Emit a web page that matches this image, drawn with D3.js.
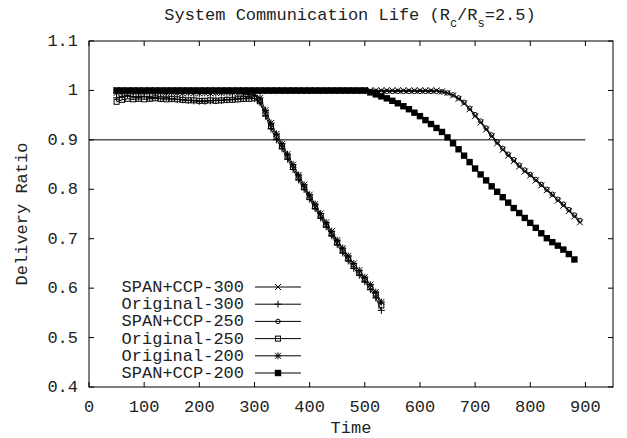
<!DOCTYPE html>
<html>
<head>
	<meta charset="utf-8">
	<title>System Communication Life</title>
	<script src="https://cdnjs.cloudflare.com/ajax/libs/d3/7.8.5/d3.min.js"></script>
	<style>
		body { margin: 0; background: white; }
		svg text { font-family: "Liberation Mono", "DejaVu Sans Mono", monospace; font-size: 17px; fill: #222; }
	</style>
</head>
<body>
	<svg id="chart" width="627" height="438"></svg>
	<script>
		// x values of the samples (every 10 time units)
		var timeSpan = d3.range(50, 900, 10);      // 50 .. 890
		var timeSpan200 = d3.range(50, 890, 10);   // 50 .. 880
		var timeOrig = d3.range(50, 540, 10);      // 50 .. 530

		var spanCcp300 = [1,1,0.999,1,1,1,1,1,1,1, 1,1,1,1,1,1,1,1,1,1,
			1,1,1,1,1,1,1,1,1,1, 1,1,1,1,1,1,1,1,1,1,
			1,1,1,1,1,1,1,1,1,1, 1,1,1,1,1,1,1,1,1,
			0.998,0.995,0.99,0.983,0.974,0.962,0.948,0.935,0.921,0.907,
			0.893,0.88,0.868,0.857,0.846,0.836,0.828,0.818,0.808,0.798,
			0.788,0.777,0.767,0.756,0.745,0.733];
		var spanCcp250 = [0.998,0.998,0.997,0.998,0.998,0.998,0.997,0.998,0.998,0.998,
			0.998,0.997,0.998,0.998,0.998,0.998,0.998,0.997,0.998,0.998,
			0.998,0.998,0.998,0.998,0.997,0.998,0.998,0.998,0.998,0.998,
			0.998,0.998,0.998,0.998,0.998,0.998,0.998,0.998,0.998,0.998,
			0.998,0.998,0.998,0.998,0.998,0.998,0.998,0.998,0.998,0.998,
			0.998,0.998,0.998,0.998,0.998,0.998,0.998,0.998,0.998,
			0.997,0.995,0.991,0.985,0.976,0.964,0.951,0.938,0.924,0.91,
			0.896,0.883,0.871,0.86,0.849,0.839,0.83,0.82,0.81,0.8,
			0.79,0.78,0.77,0.759,0.748,0.737];
		var spanCcp200 = [1,1,1,1,1,1,1,1,1,1, 1,1,1,1,1,1,1,1,1,1,
			1,1,1,1,1,1,1,1,1,1, 1,1,1,1,1,1,1,1,1,1,
			1,1,1,1,1,1,
			0.996,0.992,0.988,0.984,0.979,0.974,0.968,0.962,0.955,0.948,
			0.94,0.932,0.924,0.916,0.905,0.893,0.881,0.868,0.855,0.842,
			0.83,0.818,0.806,0.795,0.784,0.773,0.762,0.752,0.742,0.732,
			0.722,0.711,0.701,0.693,0.686,0.678,0.669,0.658];
		var original300 = [0.985,0.988,0.99,0.987,0.986,0.988,0.985,0.986,0.984,0.985,
			0.983,0.982,0.981,0.98,0.979,0.978,0.978,0.979,0.98,0.98,
			0.981,0.982,0.983,0.984,0.985,0.984,
			0.975,0.948,0.922,0.9,0.882,0.861,0.84,0.819,0.8,0.78,
			0.761,0.742,0.724,0.706,0.688,0.671,0.655,0.64,0.626,0.613,
			0.597,0.58,0.555];
		var original250 = [0.977,0.981,0.983,0.982,0.983,0.982,0.983,0.984,0.983,0.982,
			0.983,0.982,0.981,0.98,0.98,0.979,0.979,0.98,0.979,0.98,
			0.981,0.981,0.982,0.983,0.983,0.984,
			0.978,0.954,0.928,0.906,0.887,0.866,0.845,0.824,0.804,0.784,
			0.765,0.746,0.728,0.71,0.692,0.676,0.66,0.645,0.631,0.617,
			0.602,0.587,0.565];
		var original200 = [0.995,0.996,0.997,0.996,0.995,0.996,0.997,0.996,0.996,0.995,
			0.996,0.995,0.994,0.995,0.994,0.994,0.995,0.994,0.995,0.995,
			0.996,0.995,0.994,0.993,0.992,0.99,
			0.985,0.96,0.934,0.912,0.892,0.871,0.85,0.829,0.809,0.789,
			0.77,0.751,0.733,0.715,0.697,0.681,0.665,0.65,0.636,0.622,
			0.607,0.592,0.572];

		var seriesNames = ["SPAN+CCP-300","Original-300","SPAN+CCP-250","Original-250","Original-200","SPAN+CCP-200"];
		var xTicks = [0,100,200,300,400,500,600,700,800,900];
		var yTicks = [0.4,0.5,0.6,0.7,0.8,0.9,1,1.1];
		var threshold = 0.9;

		var plotLeft = 89, plotRight = 613, plotTop = 41, plotBottom = 387;
		var svg = d3.select("#chart");

		var x = d3.scaleLinear().domain([0,950]).range([plotLeft,plotRight]);
		var y = d3.scaleLinear().domain([0.4,1.1]).range([plotBottom,plotTop]);

		// marker shapes
		var markers = {
			cross: function(g){ g.append("path").attr("d","M-3,-3L3,3M-3,3L3,-3").attr("stroke","#000").attr("fill","none"); },
			plus: function(g){ g.append("path").attr("d","M-3.5,0H3.5M0,-3.5V3.5").attr("stroke","#000").attr("fill","none"); },
			circle: function(g){ g.append("circle").attr("r",2.2).attr("stroke","#000").attr("fill","none"); },
			square: function(g){ g.append("rect").attr("x",-2.5).attr("y",-2.5).attr("width",5).attr("height",5).attr("stroke","#000").attr("fill","none"); },
			star: function(g){ g.append("path").attr("d","M-3,-3L3,3M-3,3L3,-3M-3.5,0H3.5M0,-3.5V3.5").attr("stroke","#000").attr("fill","none"); },
			filled: function(g){ g.append("rect").attr("x",-3.2).attr("y",-3.2).attr("width",6.4).attr("height",6.4).attr("fill","#000"); }
		};

		var series = [
			{name: seriesNames[0], t: timeSpan, v: spanCcp300, m: "cross"},
			{name: seriesNames[1], t: timeOrig, v: original300, m: "plus"},
			{name: seriesNames[2], t: timeSpan, v: spanCcp250, m: "circle"},
			{name: seriesNames[3], t: timeOrig, v: original250, m: "square"},
			{name: seriesNames[4], t: timeOrig, v: original200, m: "star"},
			{name: seriesNames[5], t: timeSpan200, v: spanCcp200, m: "filled"}
		];

		// frame + ticks (inward, all four sides)
		svg.append("rect").attr("x",plotLeft).attr("y",plotTop).attr("width",plotRight-plotLeft).attr("height",plotBottom-plotTop)
			.attr("fill","none").attr("stroke","#000").attr("stroke-width",1);

		var ax = svg.append("g").attr("stroke","#000").attr("stroke-width",1);
		xTicks.forEach(function(t){
			ax.append("line").attr("x1",x(t)).attr("x2",x(t)).attr("y1",plotBottom).attr("y2",plotBottom-5);
			ax.append("line").attr("x1",x(t)).attr("x2",x(t)).attr("y1",plotTop).attr("y2",plotTop+5);
			svg.append("text").attr("x",x(t)).attr("y",plotBottom+25).attr("text-anchor","middle").text(t);
		});
		yTicks.forEach(function(t){
			ax.append("line").attr("x1",plotLeft).attr("x2",plotLeft+5).attr("y1",y(t)).attr("y2",y(t));
			ax.append("line").attr("x1",plotRight).attr("x2",plotRight-5).attr("y1",y(t)).attr("y2",y(t));
			svg.append("text").attr("x",plotLeft-11).attr("y",y(t)+5).attr("text-anchor","end").text(d3.format("")(t));
		});

		// 0.9 reference line
		svg.append("line").attr("x1",x(0)).attr("x2",x(900)).attr("y1",y(threshold)).attr("y2",y(threshold))
			.attr("stroke","#000").attr("stroke-width",1);

		var line = d3.line().x(function(d){ return x(d[0]); }).y(function(d){ return y(d[1]); });

		series.forEach(function(s){
			var pts = s.t.map(function(t,i){ return [t, s.v[i]]; });
			svg.append("path").attr("d",line(pts)).attr("fill","none").attr("stroke","#000").attr("stroke-width",1);
			pts.forEach(function(p){
				var g = svg.append("g").attr("transform","translate("+x(p[0])+","+y(p[1])+")");
				markers[s.m](g);
			});
		});

		// legend
		var legY0 = 287, legStep = 17.2;
		series.forEach(function(s,i){
			var ly = legY0 + i*legStep;
			svg.append("text").attr("x",244).attr("y",ly+5).attr("text-anchor","end").text(s.name);
			svg.append("line").attr("x1",255).attr("x2",301).attr("y1",ly).attr("y2",ly).attr("stroke","#000").attr("stroke-width",1);
			var g = svg.append("g").attr("transform","translate(278,"+ly+")");
			markers[s.m](g);
		});

		// titles
		var title = svg.append("text").attr("x",350).attr("y",20).attr("text-anchor","middle");
		title.append("tspan").text("System Communication Life (R");
		title.append("tspan").attr("baseline-shift","sub").attr("font-size","12px").text("c");
		title.append("tspan").text("/R");
		title.append("tspan").attr("baseline-shift","sub").attr("font-size","12px").text("s");
		title.append("tspan").text("=2.5)");

		svg.append("text").attr("x",351).attr("y",433).attr("text-anchor","middle").text("Time");
		svg.append("text").attr("transform","translate(27,214) rotate(-90)").attr("text-anchor","middle").text("Delivery Ratio");
	</script>
</body>
</html>
